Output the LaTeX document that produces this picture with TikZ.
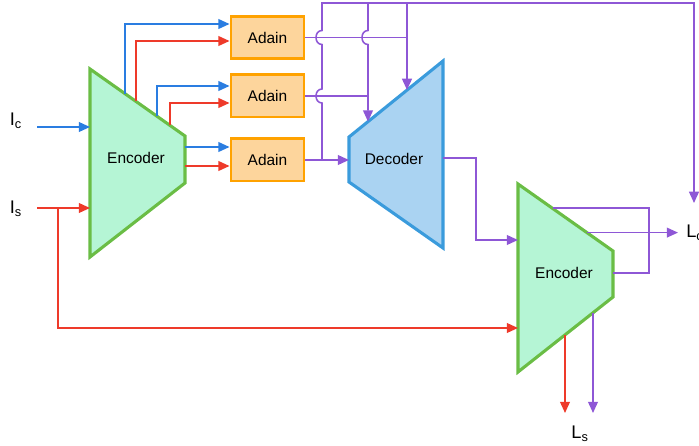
\documentclass[tikz,border=0pt]{standalone}
\usepackage{fontspec}
\setmainfont{Liberation Sans}
\usetikzlibrary{arrows.meta}
\definecolor{cblue}{HTML}{2A7DE1}
\definecolor{cred}{HTML}{EE3A2A}
\definecolor{cpurple}{HTML}{8E57D6}
\definecolor{encfill}{HTML}{B5F5D5}
\definecolor{encdraw}{HTML}{6ABD45}
\definecolor{decfill}{HTML}{AAD3F2}
\definecolor{decdraw}{HTML}{3A9BDC}
\definecolor{adfill}{HTML}{FDD59C}
\definecolor{addraw}{HTML}{FFA200}

\begin{document}
\begin{tikzpicture}[x=0.025cm,y=-0.025cm]
    \tikzstyle{adain}=[rectangle,draw=addraw,fill=adfill,line width=2pt,minimum width=52pt,minimum height=30pt,inner sep=0pt,font=\fontsize{11}{13}\selectfont]
    \tikzstyle{blocktext}=[font=\fontsize{11}{13}\selectfont]
    \tikzstyle{iolabel}=[inner sep=0pt,font=\fontsize{13}{15}\selectfont]
    \tikzstyle{link}=[line width=1.1pt,-{Triangle[length=8pt,width=7pt]}]
    \tikzstyle{wire}=[line width=1.1pt]
    \useasboundingbox (0,0) rectangle (699,446);
    % encoder, decoder, encoder
    \draw[fill=encfill,draw=encdraw,line width=2.2pt] (90,69) -- (185,136) -- (185,183) -- (90,257) -- cycle;
    \draw[fill=decfill,draw=decdraw,line width=2.2pt] (349,137) -- (443,61) -- (443,248) -- (349,182) -- cycle;
    \draw[fill=encfill,draw=encdraw,line width=2.2pt] (518,184) -- (613,251) -- (613,297) -- (518,372) -- cycle;
    \node[blocktext] (enc1) at (136,158) {Encoder};
    \node[blocktext] (dec) at (394,159) {Decoder};
    \node[blocktext] (enc2) at (564,273) {Encoder};
    \node[adain] (a1) at (267.5,37.5) {Adain};
    \node[adain] (a2) at (267.5,96) {Adain};
    \node[adain] (a3) at (267.5,160) {Adain};
    \node[iolabel] (ic) at (16,121) {I\textsubscript{c}};
    \node[iolabel] (is) at (16,209) {I\textsubscript{s}};
    \node[iolabel,anchor=west] (lc) at (686,233) {L\textsubscript{c}};
    \node[iolabel] (ls) at (580,434) {L\textsubscript{s}};
    % inputs
    \draw[link,cblue] (37,127) -- (90,127);
    \draw[link,cred] (37,208) -- (90,208);
    \draw[link,cred] (58,208) -- (58,328) -- (518,328);
    % encoder to adain
    \draw[link,cblue] (125,93.7) |- (a1.west |- 0,24);
    \draw[link,cred] (136,101.4) |- (a1.west |- 0,41);
    \draw[link,cblue] (157,116.2) |- (a2.west |- 0,86);
    \draw[link,cred] (170,125.4) |- (a2.west |- 0,103);
    \draw[link,cblue] (185,147) -- (a3.west |- 0,147);
    \draw[link,cred] (185,166) -- (a3.west |- 0,166);
    % adain to decoder
    \draw[link,cpurple] (a3.east) -- (349,160);
    \draw[wire,cpurple] (a1.east) -- (407,37.5);
    \draw[wire,cpurple] (a2.east) -- (368,96);
    \draw[link,cpurple] (322,160) -- (322,103) .. controls (314,103) and (314,89) .. (322,89)
      -- (322,44.5) .. controls (314,44.5) and (314,30.5) .. (322,30.5) -- (322,3) -- (694,3) -- (694,203);
    \draw[link,cpurple] (368,3) -- (368,30.5) .. controls (360,30.5) and (360,44.5) .. (368,44.5) -- (368,121.6);
    \draw[link,cpurple] (407,3) -- (407,90);
    % decoder to encoder
    \draw[link,cpurple] (443,158) -- (476,158) |- (518,240);
    \draw[wire,cpurple] (553,208) -- (649,208) |- (613,273);
    \draw[link,cpurple] (587,232.6) -- (678,232.6);
    \draw[link,cred] (565,334.9) -- (565,413);
    \draw[link,cpurple] (593,312.8) -- (593,413);
\end{tikzpicture}
\end{document}
